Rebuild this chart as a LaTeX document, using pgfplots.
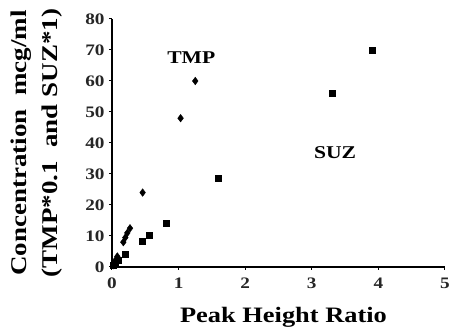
\documentclass[border=0pt]{standalone}
\usepackage{pgfplots}
\pgfplotsset{compat=1.18}
\usepackage{fontspec}
\setmainfont{Liberation Serif}
\newfontfamily\wideserif[FakeStretch=1.2]{Liberation Serif}
\begin{document}
\begin{tikzpicture}
\useasboundingbox (-112pt,-61pt) rectangle (338pt,267pt);
\begin{axis}[
  at={(0,0)}, anchor=south west,
  scale only axis, width=333pt, height=248pt,
  xmin=0, xmax=5, ymin=0, ymax=80,
  axis lines*=left,
  axis line style={line width=2.2pt, black},
  xtick={0,1,2,3,4,5}, ytick={0,10,20,30,40,50,60,70,80},
  tick align=outside, major tick length=3pt,
  tick style={line width=1pt, black},
  /pgf/number format/assume math mode=true,
  ticklabel style={font=\wideserif\bfseries\fontsize{16}{16}\selectfont, text=black!85},
  xticklabel style={yshift=-4pt},
  yticklabel style={xshift=-1pt},
  clip=false,
  xlabel={Peak Height Ratio},
  xlabel style={font=\wideserif\bfseries\fontsize{22}{22}\selectfont, at={(axis description cs:0.515,0)}, anchor=base, yshift=-56pt},
  ylabel={Concentration\ \ mcg/ml\\(TMP*0.1\ \ and SUZ*1)},
  ylabel style={font=\wideserif\bfseries\fontsize{22.5}{31}\selectfont, align=center, at={(axis description cs:-0.225,0.5)}, anchor=center},
]
\addplot[only marks, mark=diamond*, mark size=3.8pt, black] coordinates {
 (0.02,0.6) (0.04,1.3) (0.06,2.4) (0.08,3.4)
 (0.17,8) (0.20,9.5) (0.23,11) (0.27,12.5)
 (0.46,24) (1.03,48) (1.25,60)
};
\addplot[only marks, mark=square*, mark size=3pt, black] coordinates {
 (0.02,0.5) (0.05,1.2) (0.09,2.2)
 (0.20,4) (0.45,8.3) (0.56,10.3) (0.82,14.2)
 (1.60,28.5) (3.30,56) (3.90,70)
};
\node[font=\wideserif\bfseries\fontsize{18}{18}\selectfont] at (axis cs:1.19,67.5) {TMP};
\node[font=\wideserif\bfseries\fontsize{18}{18}\selectfont] at (axis cs:3.35,37) {SUZ};
\end{axis}
\end{tikzpicture}
\end{document}
